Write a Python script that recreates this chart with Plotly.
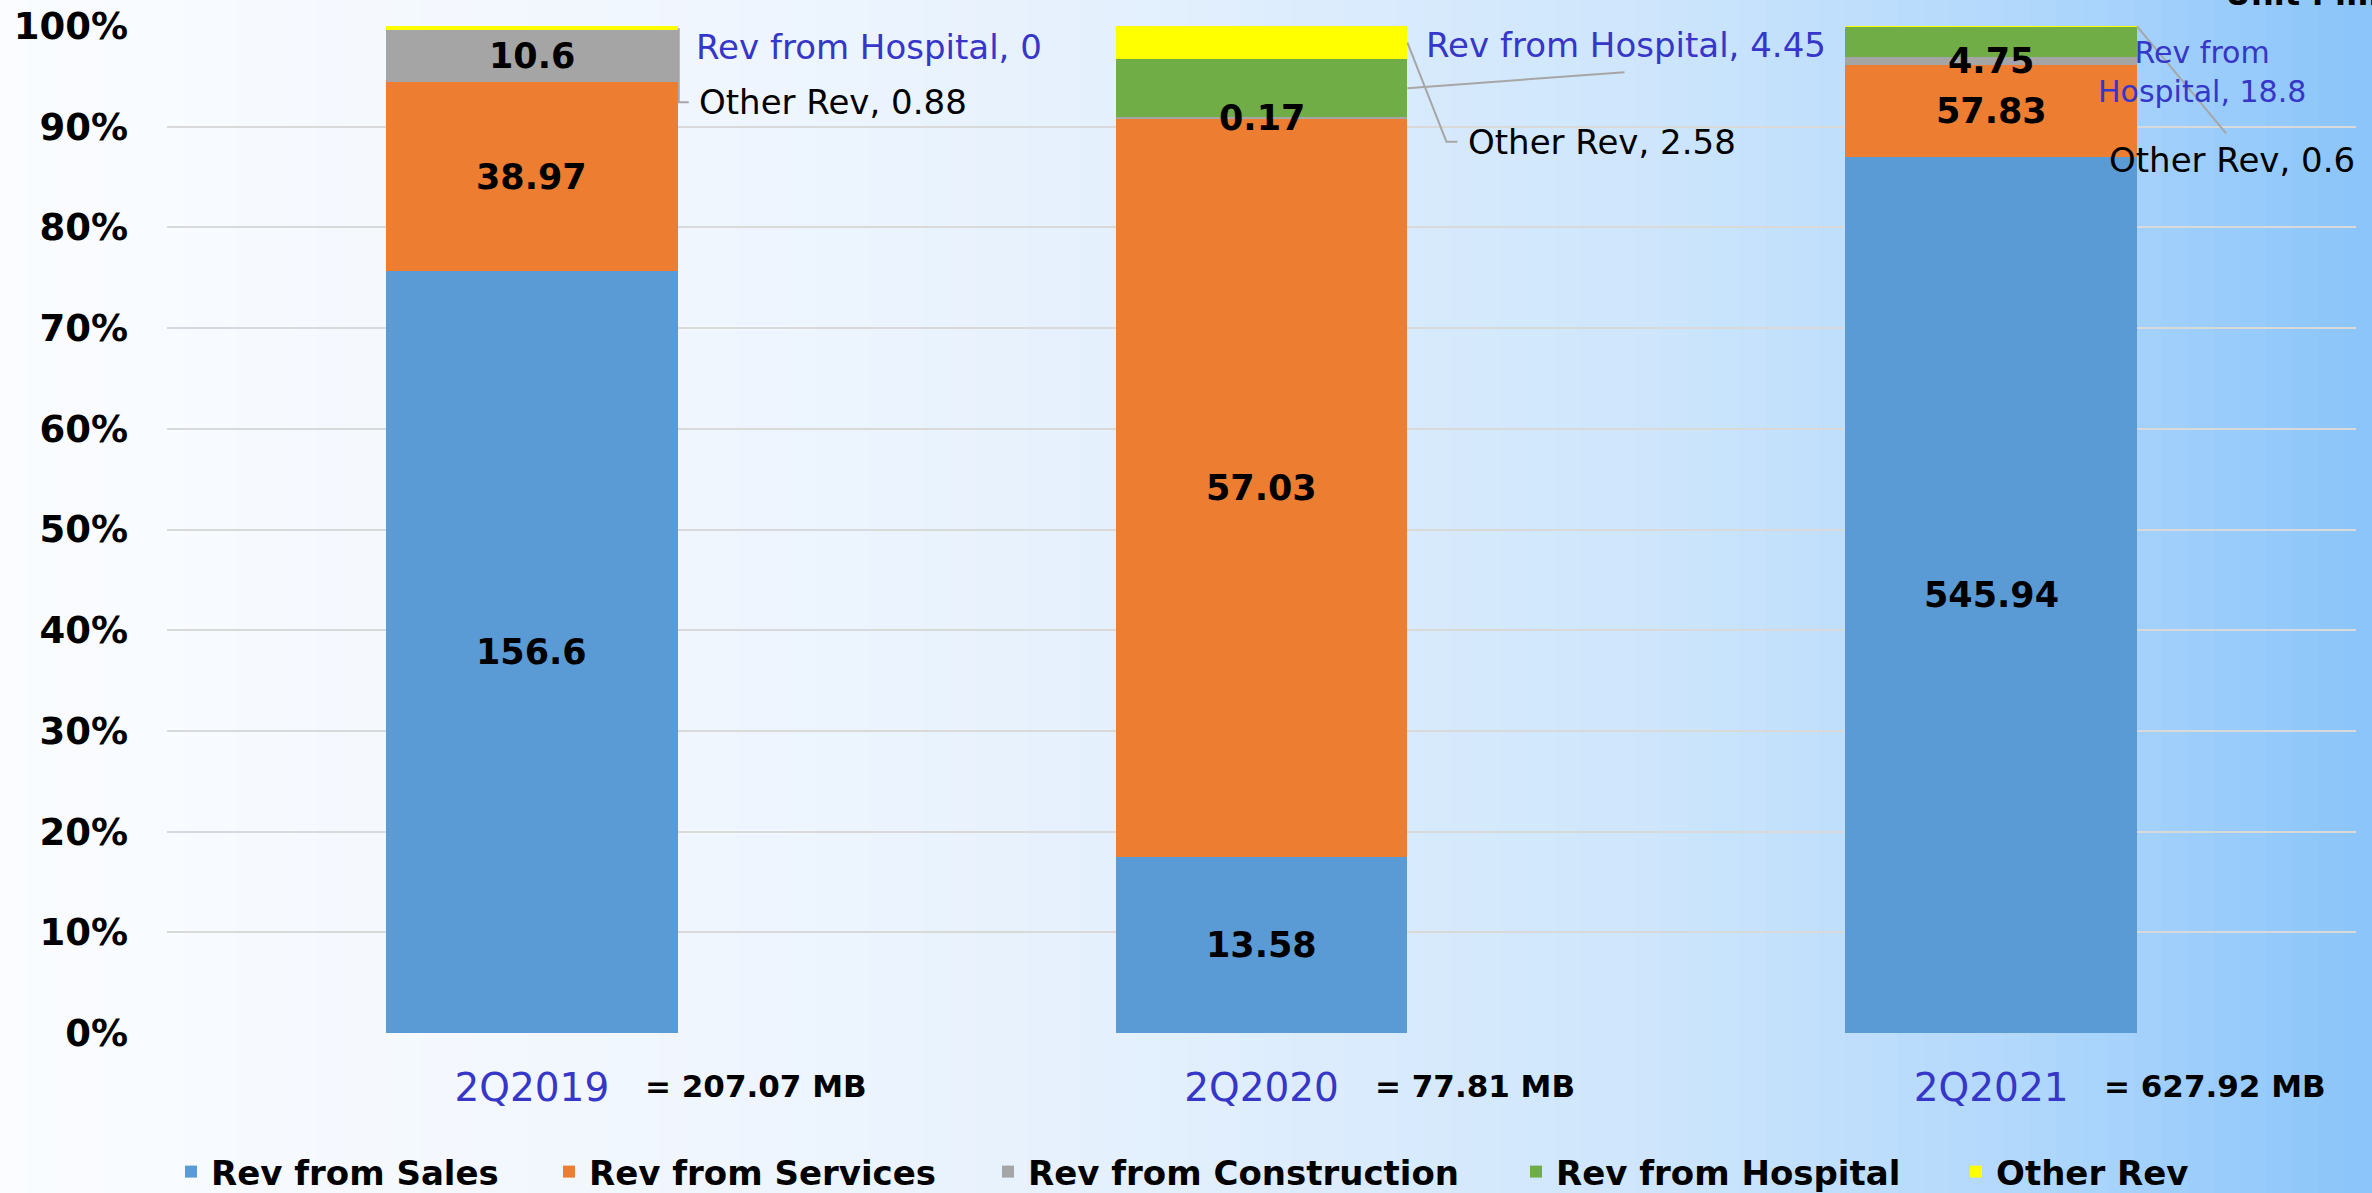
import plotly.graph_objects as go

# ---------------- data ----------------
categories = ["2Q2019", "2Q2020", "2Q2021"]
series_names = ["Rev from Sales", "Rev from Services", "Rev from Construction",
                "Rev from Hospital", "Other Rev"]
rev_sales = [156.6, 13.58, 545.94]
rev_services = [38.97, 57.03, 57.83]
rev_construction = [10.6, 0.17, 4.75]
rev_hospital = [0, 4.45, 18.8]
other_rev = [0.88, 2.58, 0.6]
totals_text = ["207.07", "77.81", "627.92"]
y_ticks = [0, 10, 20, 30, 40, 50, 60, 70, 80, 90, 100]
y_tick_text = [f"{v}%" for v in y_ticks]

series_values = [rev_sales, rev_services, rev_construction, rev_hospital, other_rev]
colors = ["#5B9BD5", "#ED7D31", "#A5A5A5", "#70AD47", "#FFFF00"]

BLUE_TXT = "#3636C8"
FONT = "DejaVu Sans"
BAR_W = 0.4

W, H = 2372, 1193
ML, MR, MT, MB = 167, 16, 26, 160
pw = W - ML - MR
ph = H - MT - MB

# legend item text starting positions (px) of each separate legend
legend_text_x = [211, 589, 1028, 1556, 1996]
legend_keys = ["legend", "legend2", "legend3", "legend4", "legend5"]

fig = go.Figure()
for name, vals, col, lk in zip(series_names, series_values, colors, legend_keys):
    fig.add_trace(go.Bar(x=categories, y=vals, name=name, marker_color=col,
                         marker_line_width=0, width=BAR_W, hoverinfo="x+y+name",
                         legend=lk))

# ---------------- label positions derived from data ----------------
annotations = []
shapes = []
mid = {}
for c in range(len(categories)):
    tot = sum(s[c] for s in series_values)
    cum = 0
    for si, s in enumerate(series_values):
        p = s[c] / tot * 100
        mid[(si, c)] = cum + p / 2
        cum += p

# inside labels: sales, services, construction
for si in range(3):
    for c in range(len(categories)):
        annotations.append(dict(
            x=categories[c], y=mid[(si, c)], xref="x", yref="y",
            text=f"{series_values[si][c]:g}", showarrow=False,
            font=dict(family=FONT, size=35, color="black", weight="bold"),
            xanchor="center", yanchor="middle"))

# outside labels (series idx, cat idx, dx, dy(down), xanchor, size, text template, color, leader path)
outside = [
    (3, 0, 16, 17, "left", 34, "Rev from Hospital, {v}", BLUE_TXT, None),
    (4, 0, 19, 74, "left", 34, "Other Rev, {v}", "black", "M 1,0 L 1,-74 L 11,-74"),
    (3, 1, 17, -43, "left", 34, "Rev from Hospital, {v}", BLUE_TXT, "M 0,0 L 217,16"),
    (4, 1, 59, 99, "left", 34, "Other Rev, {v}", "black", "M 0,0 L 39,-99 L 50,-99"),
    (3, 2, 65, 30, "center", 30, "Rev from<br>Hospital, {v}", BLUE_TXT, None),
    (4, 2, -30, 134, "left", 34, "Other Rev, {v}", "black", "M 0,0 L 89,-107"),
]
for si, c, dx, dy, xa, sz, tmpl, col, path in outside:
    ax_x = c + BAR_W / 2
    annotations.append(dict(
        x=ax_x, y=mid[(si, c)], xref="x", yref="y", xshift=dx, yshift=-dy,
        text=tmpl.format(v=f"{series_values[si][c]:g}"), showarrow=False,
        font=dict(family=FONT, size=sz, color=col),
        xanchor=xa, yanchor="middle", align="center"))
    if path:
        shapes.append(dict(type="path", path=path, xref="x", yref="y",
                           xsizemode="pixel", ysizemode="pixel",
                           xanchor=ax_x, yanchor=mid[(si, c)],
                           line=dict(color="#A6A6A6", width=2), layer="above"))

# totals next to category labels
for c, t in enumerate(totals_text):
    annotations.append(dict(
        x=categories[c], y=0, xref="x", yref="paper", xanchor="left", yanchor="middle",
        xshift=111, yshift=-53, text=f"= {t} MB", showarrow=False,
        font=dict(family=FONT, size=31, color="black", weight="bold")))

# unit text (cut at top edge as in the original)
annotations.append(dict(x=(2223 - ML) / pw, y=1, xref="paper", yref="paper", xanchor="left",
                        yanchor="bottom", yshift=11, text="Unit : million baht",
                        showarrow=False,
                        font=dict(family=FONT, size=32, color="black", weight="bold")))

# ---------------- background gradient ----------------
stops = [(0.0, (250, 252, 255)), (0.3, (240, 246, 254)), (0.5, (226, 239, 253)),
         (0.7, (205, 229, 252)), (0.85, (178, 216, 252)), (1.0, (138, 196, 250))]
N = 90
def interp(t):
    for (t0, c0), (t1, c1) in zip(stops[:-1], stops[1:]):
        if t <= t1:
            f = (t - t0) / (t1 - t0) if t1 > t0 else 0
            return tuple(round(a + (b - a) * f) for a, b in zip(c0, c1))
    return stops[-1][1]
bg_shapes = []
for k in range(N):
    t0 = k / N
    t1 = (k + 1) / N
    col = interp((t0 + t1) / 2)
    bg_shapes.append(dict(type="rect", xref="paper", yref="paper",
                          x0=(t0 * W - ML) / pw, x1=(t1 * W - ML) / pw + 0.0005,
                          y0=-MB / ph - 0.05, y1=1 + MT / ph + 0.05,
                          fillcolor=f"rgb{col}", line_width=0, layer="below"))

legend_common = dict(orientation="h", xanchor="left", y=-(1172 - (H - MB)) / ph,
                     yanchor="middle",
                     font=dict(family=FONT, size=34, color="black", weight="bold"),
                     itemwidth=30, bgcolor="rgba(0,0,0,0)", borderwidth=0)
legends = {}
for lk, tx in zip(legend_keys, legend_text_x):
    legends[lk] = dict(legend_common, x=(tx - 40 - ML) / pw)

fig.update_layout(
    width=W, height=H,
    margin=dict(l=ML, r=MR, t=MT, b=MB, pad=0, autoexpand=False),
    barmode="stack", barnorm="percent",
    paper_bgcolor="rgba(0,0,0,0)", plot_bgcolor="rgba(0,0,0,0)",
    font=dict(family=FONT, color="black"),
    showlegend=True,
    xaxis=dict(type="category", categoryorder="array", categoryarray=categories,
               showgrid=False, zeroline=False, showline=False, ticks="",
               tickfont=dict(family=FONT, size=39, color=BLUE_TXT),
               ticklabelstandoff=28, range=[-0.5, 2.5], automargin=False),
    yaxis=dict(range=[0, 100], tickmode="array", tickvals=y_ticks, ticktext=y_tick_text,
               showgrid=True, gridcolor="#D9D9D9", gridwidth=2,
               zeroline=False, showline=False, ticks="",
               tickfont=dict(family=FONT, size=37, color="black", weight="bold"),
               ticklabelstandoff=38, automargin=False),
    annotations=annotations,
    shapes=bg_shapes + shapes,
    **legends,
)

fig.write_html("out.html", config={"displayModeBar": False},
               post_script="document.body.style.margin='0';document.body.style.overflow='hidden';")
